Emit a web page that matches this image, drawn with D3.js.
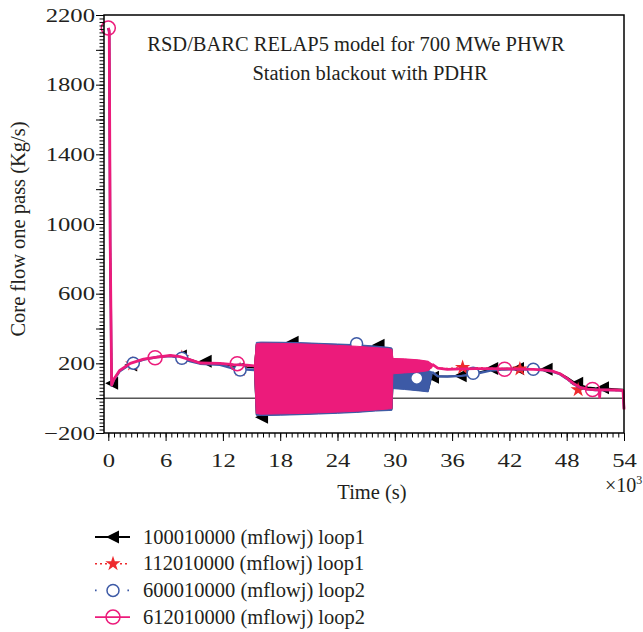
<!DOCTYPE html>
<html>
<head>
<meta charset="utf-8">
<script src="https://cdn.jsdelivr.net/npm/d3@7"></script>
<style>
body { margin: 0; background: #fff; }
svg { display: block; }
text { font-family: "Liberation Serif", "Times New Roman", serif; fill: #231f20; }
</style>
</head>
<body>
<script>
var width = 643, height = 632;

// time in 10^3 s, flow in kg/s
// before the oscillation
var preTime  = [0, 0.1, 0.2, 0.35, 0.6, 1.2, 2.3, 3.7, 5.1, 6.5, 7.5, 8.6, 9.6, 11.7, 13.1, 14.5, 15.3];
var blackPre = [2125, 2100, 800, 85, 112, 158, 198, 222, 236, 244, 238, 222, 204, 198, 185, 178, 175];
var redPre   = [2125, 2105, 880, 78, 110, 160, 200, 224, 236, 245, 238, 220, 204, 200, 192, 188, 184];
var bluePre  = [2125, 2100, 850, 72, 105, 155, 195, 222, 236, 242, 232, 212, 198, 192, 170, 165, 162];
var pinkPre  = [2125, 2110, 900, 75, 110, 160, 200, 224, 236, 245, 238, 220, 202, 200, 193, 190, 185];

// oscillating part, upper / lower envelope
var bandTime = [15.3, 15.5, 16, 18, 20, 22, 24, 26, 28, 29.3, 29.7, 29.8, 31, 32.5, 33.5, 33.9];
var blackHi = [175, 310, 315, 316, 314, 310, 306, 302, 295, 288, 284, 170, 168, 165, 155, 135];
var blackLo = [170, -95, -97, -94, -91, -87, -83, -78, -70, -67, -65, 60, 55, 45, 42, 128];
var redHi   = [184, 308, 312, 310, 308, 304, 299, 294, 286, 281, 276, 224, 222, 216, 208, 192];
var redLo   = [180, -84, -88, -86, -84, -80, -76, -71, -64, -58, -56, 144, 148, 152, 160, 176];
var blueHi  = [162, 320, 322, 321, 319, 315, 311, 307, 299, 292, 288, 175, 172, 168, 160, 150];
var blueLo  = [160, -98, -100, -98, -95, -91, -87, -82, -74, -71, -70, 55, 50, 42, 36, 132];
var pinkHi  = [185, 312, 316, 314, 312, 308, 303, 298, 290, 285, 280, 228, 226, 220, 212, 196];
var pinkLo  = [182, -88, -92, -90, -88, -84, -80, -75, -68, -62, -60, 140, 145, 150, 158, 178];

// after the oscillation
var postTime  = [33.9, 34.5, 35.5, 37, 38.5, 40, 41.5, 43, 44.5, 45.5, 46.5, 47.3, 48, 48.7, 49.4, 50.2, 51, 51.4, 51.45, 51.5, 52, 53, 53.9, 54];
var blackPost = [135, 125, 124, 128, 145, 165, 170, 170, 168, 164, 156, 142, 120, 95, 75, 62, 58, 57, 57, 57, 56, 53, 50, -40];
var redPost   = [192, 172, 170, 174, 175, 172, 170, 168, 166, 162, 154, 139, 112, 78, 52, 48, 46, 46, 46, 46, 46, 45, 43, -55];
var bluePost  = [150, 126, 124, 128, 140, 158, 165, 166, 165, 161, 153, 138, 112, 82, 60, 51, 47, 47, 47, 47, 47, 46, 44, -60];
var pinkPost  = [196, 172, 165, 168, 170, 170, 168, 167, 165, 162, 155, 140, 115, 85, 62, 52, 48, 48, 5, 48, 48, 47, 45, -65];

// symbols
var blackMarkT = [0.4, 2.4, 7.6, 10.2, 13.6, 16.1, 19.3, 28.3, 34.0, 36.9, 40.2, 42.9, 45.9, 49.1, 51.8];
var blackMarkV = [85, 190, 242, 212, 168, -109, 321, 304, 120, 128, 170, 170, 166, 86, 60];
var redMarkT = [2.55, 7.7, 13.8, 37.1, 43.1, 49.2];
var redMarkV = [196, 234, 165, 176, 168, 48];
var blueMarkT = [2.62, 7.7, 13.8, 26.0, 32.3, 38.2, 44.5];
var blueMarkV = [201, 229, 162, 312, 115, 143, 166];
var pinkMarkT = [0, 4.9, 13.5, 41.5, 50.7];
var pinkMarkV = [2125, 232, 198, 166, 50];

var xTicks = [0, 6, 12, 18, 24, 30, 36, 42, 48, 54];
var yTickLabels = [-200, 200, 600, 1000, 1400, 1800, 2200];
var legendLabels = ['100010000 (mflowj) loop1', '112010000 (mflowj) loop1',
  '600010000 (mflowj) loop2', '612010000 (mflowj) loop2'];
var titleLines = ['RSD/BARC RELAP5 model for 700 MWe PHWR', 'Station blackout with PDHR'];

var svg = d3.select('body').append('svg')
  .attr('width', width)
  .attr('height', height);

var x = d3.scaleLinear().domain([-0.45, 54]).range([104, 624]);
var y = d3.scaleLinear().domain([-200, 2200]).range([433, 15]);

var triPath = 'M-7,0L6,-6.5L6,6.5Z';
var series = [
  { pre: blackPre, hi: blackHi, lo: blackLo, post: blackPost, mt: blackMarkT, mv: blackMarkV,
    color: '#000000', lw: 1.6, dash: null, sym: triPath, symFill: '#000000', symStroke: 'none', legendDash: null },
  { pre: redPre, hi: redHi, lo: redLo, post: redPost, mt: redMarkT, mv: redMarkV,
    color: '#ee2a2e', lw: 1.6, dash: '2,3', sym: d3.symbol(d3.symbolStar, 72)(), symFill: '#ee2a2e', symStroke: 'none', legendDash: '2,3' },
  { pre: bluePre, hi: blueHi, lo: blueLo, post: bluePost, mt: blueMarkT, mv: blueMarkV,
    color: '#3d5aa6', lw: 2.4, dash: null, sym: d3.symbol(d3.symbolCircle, Math.PI * 36)(), symFill: '#ffffff', symStroke: '#3d5aa6', legendDash: '1.6,30.8' },
  { pre: pinkPre, hi: pinkHi, lo: pinkLo, post: pinkPost, mt: pinkMarkT, mv: pinkMarkV,
    color: '#ec1b7b', lw: 2.8, dash: null, sym: d3.symbol(d3.symbolCircle, Math.PI * 49)(), symFill: 'none', symStroke: '#ec1b7b', legendDash: null }
];

// zero line
svg.append('line')
  .attr('x1', x.range()[0]).attr('x2', x.range()[1])
  .attr('y1', y(0)).attr('y2', y(0))
  .attr('stroke', '#000').attr('stroke-width', 1);

series.forEach(function(s) {
  var g = svg.append('g');
  var preLine = d3.line().x(function(d, i) { return x(preTime[i]); }).y(function(d) { return y(d); });
  var postLine = d3.line().x(function(d, i) { return x(postTime[i]); }).y(function(d) { return y(d); });
  var band = d3.area()
    .x(function(d, i) { return x(bandTime[i]); })
    .y0(function(d, i) { return y(s.lo[i]); })
    .y1(function(d) { return y(d); });

  g.append('path').attr('d', band(s.hi))
    .attr('fill', s.color).attr('stroke', s.color).attr('stroke-width', 1);
  [preLine(s.pre), postLine(s.post)].forEach(function(p) {
    g.append('path').attr('d', p)
      .attr('fill', 'none')
      .attr('stroke', s.color)
      .attr('stroke-width', s.lw)
      .attr('stroke-dasharray', s.dash)
      .attr('stroke-linejoin', 'round');
  });
  g.selectAll('.mark')
    .data(s.mt)
    .enter().append('path')
    .attr('class', 'mark')
    .attr('transform', function(d, i) { return 'translate(' + x(d) + ',' + y(s.mv[i]) + ')'; })
    .attr('d', s.sym)
    .attr('fill', s.symFill)
    .attr('stroke', s.symStroke)
    .attr('stroke-width', 1.5);
});

// frame
svg.append('rect')
  .attr('x', 104).attr('y', 15)
  .attr('width', 520).attr('height', 418)
  .attr('fill', 'none').attr('stroke', '#000').attr('stroke-width', 1.5);

function fmt(d) { return String(d).replace('-', '\u2212'); }

// y axis
var yMinor = svg.append('g').attr('transform', 'translate(104,0)')
  .call(d3.axisLeft(y).tickValues(d3.range(-200, 2201, 20)).tickSize(4.5).tickFormat(''));
var yMajor = svg.append('g').attr('transform', 'translate(104,0)')
  .call(d3.axisLeft(y).tickValues(d3.range(-200, 2201, 200)).tickSize(8)
    .tickFormat(function(d) { return yTickLabels.indexOf(d) >= 0 ? fmt(d) : ''; }));

// x axis
var xMinor = svg.append('g').attr('transform', 'translate(0,433)')
  .call(d3.axisBottom(x).tickValues(d3.range(0, 91).map(function(i) { return i * 0.6; })).tickSize(4.5).tickFormat(''));
var xMajor = svg.append('g').attr('transform', 'translate(0,433)')
  .call(d3.axisBottom(x).tickValues(xTicks).tickSize(8).tickFormat(fmt));

[yMinor, yMajor, xMinor, xMajor].forEach(function(a) {
  a.select('.domain').remove();
  a.selectAll('line').attr('stroke', '#000').attr('stroke-width', 1);
});

yMajor.selectAll('text')
  .attr('x', -9 / 1.3)
  .attr('transform', 'scale(1.3,1)')
  .attr('font-size', '19px')
  .style('font-family', '"Liberation Serif", serif')
  .attr('fill', '#231f20');
xMajor.selectAll('text')
  .attr('y', 34).attr('dy', null)
  .attr('transform', 'scale(1.3,1)')
  .attr('font-size', '19px')
  .style('font-family', '"Liberation Serif", serif')
  .attr('fill', '#231f20');

// titles
svg.selectAll('.title')
  .data(titleLines)
  .enter().append('text')
  .attr('class', 'title')
  .attr('x', function(d, i) { return i === 0 ? 356 : 370; })
  .attr('y', function(d, i) { return 51 + i * 29; })
  .attr('text-anchor', 'middle')
  .attr('font-size', '20.5px')
  .text(function(d) { return d; });

// axis titles
svg.append('text')
  .attr('transform', 'translate(25,229) rotate(-90)')
  .attr('text-anchor', 'middle')
  .attr('font-size', '20.5px')
  .text('Core flow one pass (Kg/s)');

svg.append('text')
  .attr('x', 372).attr('y', 499)
  .attr('text-anchor', 'middle')
  .attr('font-size', '20.5px')
  .text('Time (s)');

var mult = svg.append('text')
  .attr('x', 605).attr('y', 492)
  .attr('font-size', '20px');
mult.append('tspan').text('\u00d710');
mult.append('tspan').attr('dy', -8).attr('font-size', '12px').text('3');

// legend
var leg = svg.selectAll('.leg')
  .data(series)
  .enter().append('g')
  .attr('class', 'leg')
  .attr('transform', function(d, i) { return 'translate(0,' + (537 + i * 26.7) + ')'; });

leg.append('line')
  .attr('x1', 95).attr('x2', 130)
  .attr('y1', 0).attr('y2', 0)
  .attr('stroke', function(d) { return d.color; })
  .attr('stroke-width', function(d) { return d.legendDash ? 1.6 : 1.8; })
  .attr('stroke-dasharray', function(d) { return d.legendDash; });

leg.append('path')
  .attr('transform', 'translate(113,0)')
  .attr('d', function(d) { return d.sym; })
  .attr('fill', function(d) { return d.symFill; })
  .attr('stroke', function(d) { return d.symStroke; })
  .attr('stroke-width', 1.5);

leg.append('text')
  .attr('x', 143).attr('y', 6.5)
  .attr('font-size', '20.5px')
  .text(function(d, i) { return legendLabels[i]; });
</script>
</body>
</html>
